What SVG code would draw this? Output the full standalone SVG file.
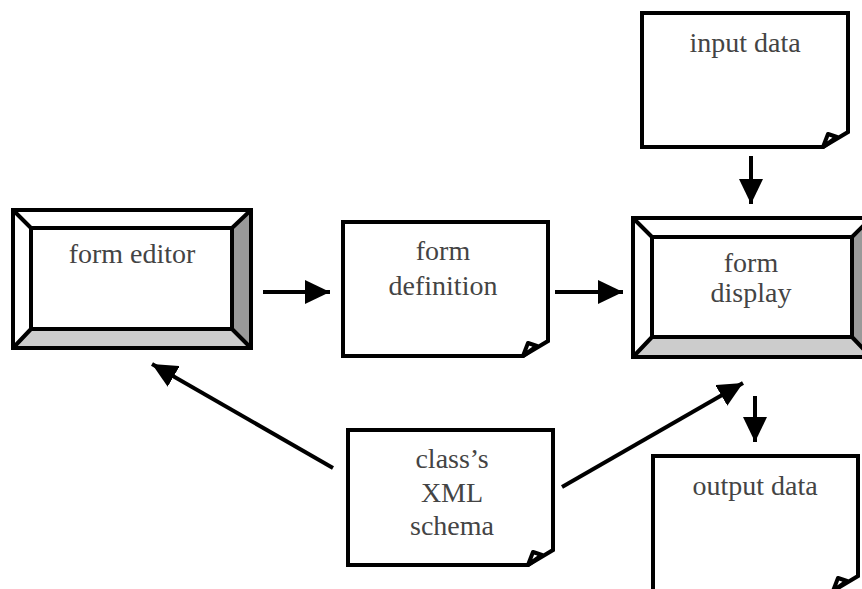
<svg xmlns="http://www.w3.org/2000/svg" width="862" height="589" viewBox="0 0 862 589">
<style>
.lbl{font-family:"Liberation Serif","Times New Roman",serif;font-size:28px;fill:#444;text-anchor:middle}
.page{fill:#fff;stroke:#000;stroke-width:4;stroke-linejoin:miter}
.fold{fill:#fff;stroke:#000;stroke-width:4;stroke-linejoin:round}
.ln{stroke:#000;stroke-width:4;fill:none}
.conn{stroke:#000;stroke-width:4;fill:none}
</style>
<defs>
<marker id="ah" viewBox="0 0 25 24" refX="25" refY="12" markerWidth="25" markerHeight="24" markerUnits="userSpaceOnUse" orient="auto">
<path d="M0,0 L25,12 L0,24 Z" fill="#000"/>
</marker>
</defs>
<rect width="862" height="589" fill="#fff"/>

<g id="form-editor">
<polygon fill="#999" points="251,210 251,348 232,329 232,228"/>
<polygon fill="#ccc" points="13,348 31,329 232,329 251,348"/>
<rect class="ln" x="13" y="210" width="238" height="138"/>
<rect class="ln" fill="#fff" x="31" y="228" width="201" height="101"/>
<path class="ln" d="M13,210 L31,228 M251,210 L232,228 M13,348 L31,329 M251,348 L232,329"/>
<text class="lbl" x="132" y="263">form editor</text>
</g>

<g id="form-definition">
<path class="page" d="M343,222 H548 V341 L523,356 H343 Z"/>
<path class="fold" d="M523,356 L528,343 L537,346 Z"/>
<text class="lbl" x="443" y="260">form</text>
<text class="lbl" x="443" y="295">definition</text>
</g>

<g id="form-display">
<polygon fill="#999" points="871,218 871,357 852,337 852,237"/>
<polygon fill="#ccc" points="633,357 652,337 852,337 871,357"/>
<rect class="ln" x="633" y="218" width="238" height="139"/>
<rect class="ln" fill="#fff" x="652" y="237" width="200" height="100"/>
<path class="ln" d="M633,218 L652,237 M871,218 L852,237 M633,357 L652,337 M871,357 L852,337"/>
<text class="lbl" x="751" y="272">form</text>
<text class="lbl" x="751" y="302">display</text>
</g>

<g id="input-data">
<path class="page" d="M642,13 H848 V132 L823,147 H642 Z"/>
<path class="fold" d="M823,147 L828,134 L837,137 Z"/>
<text class="lbl" x="745" y="52">input data</text>
</g>

<g id="class-schema">
<path class="page" d="M348,430 H553 V550 L528,565 H348 Z"/>
<path class="fold" d="M528,565 L533,552 L542,555 Z"/>
<text class="lbl" x="452" y="468">class’s</text>
<text class="lbl" x="452" y="502">XML</text>
<text class="lbl" x="452" y="535">schema</text>
</g>

<g id="output-data">
<path class="page" d="M653,456 H858 V576 L833,591 H653 Z"/>
<path class="fold" d="M833,591 L838,578 L847,581 Z"/>
<text class="lbl" x="755" y="495">output data</text>
</g>

<g id="connectors">
<line class="conn" x1="263" y1="292" x2="330" y2="292" marker-end="url(#ah)"/>
<line class="conn" x1="555" y1="292" x2="623" y2="292" marker-end="url(#ah)"/>
<line class="conn" x1="751" y1="156" x2="751" y2="204" marker-end="url(#ah)"/>
<line class="conn" x1="755" y1="396" x2="755" y2="442" marker-end="url(#ah)"/>
<line class="conn" x1="333" y1="468" x2="152" y2="364" marker-end="url(#ah)"/>
<line class="conn" x1="562" y1="487" x2="743" y2="383" marker-end="url(#ah)"/>
</g>
</svg>
